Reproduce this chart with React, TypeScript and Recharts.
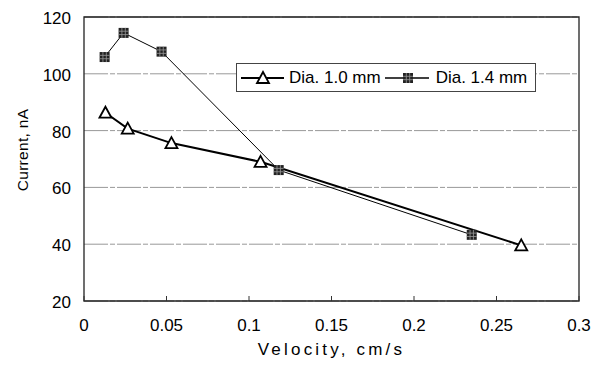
import React from "react";
import {
  LineChart,
  Line,
  XAxis,
  YAxis,
  CartesianGrid,
  ReferenceArea,
  Label,
} from "recharts";

const dia10X = [0.013, 0.0265, 0.053, 0.107, 0.265];
const dia10Y = [86.3, 80.7, 75.6, 69, 39.6];
const dia14X = [0.0125, 0.024, 0.047, 0.118, 0.235];
const dia14Y = [105.9, 114.4, 107.8, 66.1, 43.3];
const xTicks = [0, 0.05, 0.1, 0.15, 0.2, 0.25, 0.3];
const yTicks = [20, 40, 60, 80, 100, 120];
const seriesNames = ["Dia. 1.0 mm", "Dia. 1.4 mm"];

const dia10 = dia10X.map((x, i) => ({ x, y: dia10Y[i] }));
const dia14 = dia14X.map((x, i) => ({ x, y: dia14Y[i] }));

const FONT = "'Liberation Sans', Arial, Helvetica, sans-serif";

const Triangle = ({ cx, cy }: { cx: number; cy: number }) => (
  <path
    d={`M${cx},${cy - 6} L${cx + 6},${cy + 5} L${cx - 6},${cy + 5} Z`}
    fill="#fff"
    stroke="#000"
    strokeWidth={1.8}
    strokeLinejoin="miter"
  />
);

const Square = ({ cx, cy }: { cx: number; cy: number }) => (
  <g>
    <rect x={cx - 5} y={cy - 5} width={10} height={10} fill="#222" />
    <line x1={cx - 5} x2={cx + 5} y1={cy - 1.7} y2={cy - 1.7} stroke="#999" strokeWidth={0.8} />
    <line x1={cx - 5} x2={cx + 5} y1={cy + 1.7} y2={cy + 1.7} stroke="#999" strokeWidth={0.8} />
    <line y1={cy - 5} y2={cy + 5} x1={cx - 1.7} x2={cx - 1.7} stroke="#999" strokeWidth={0.8} />
    <line y1={cy - 5} y2={cy + 5} x1={cx + 1.7} x2={cx + 1.7} stroke="#999" strokeWidth={0.8} />
  </g>
);

const XTick = (props: any) => {
  const { x, y, payload } = props;
  return (
    <g>
      <line x1={x} x2={x} y1={y} y2={y - 5} stroke="#333" strokeWidth={1} />
      <text x={x} y={y + 30} textAnchor="middle" fontSize={17} fontFamily={FONT} fill="#000">
        {String(payload.value)}
      </text>
    </g>
  );
};

const YTick = (props: any) => {
  const { x, y, payload } = props;
  return (
    <text x={x - 13} y={y + 7} textAnchor="end" fontSize={17} fontFamily={FONT} fill="#000">
      {String(payload.value)}
    </text>
  );
};

const LegendBox = () => (
  <div
    style={{
      position: "absolute",
      left: 236,
      top: 63,
      width: 298,
      height: 27,
      border: "1px solid #444",
      background: "#fff",
      display: "flex",
      alignItems: "center",
      fontFamily: FONT,
      fontSize: 17,
      color: "#000",
      boxSizing: "content-box",
    }}
  >
    <svg width={48} height={27} style={{ display: "block" }}>
      <line x1={4} x2={47} y1={14} y2={14} stroke="#000" strokeWidth={2} />
      <Triangle cx={26} cy={14} />
    </svg>
    <span style={{ marginLeft: 4, whiteSpace: "nowrap" }}>{seriesNames[0]}</span>
    <svg width={48} height={27} style={{ display: "block", marginLeft: 3 }}>
      <line x1={1} x2={45} y1={14} y2={14} stroke="#000" strokeWidth={1.5} />
      <Square cx={24} cy={14} />
    </svg>
    <span style={{ marginLeft: 4, whiteSpace: "nowrap" }}>{seriesNames[1]}</span>
  </div>
);

export default function App() {
  return (
    <div style={{ position: "absolute", left: 0, top: 0, width: 602, height: 365, background: "#fff" }}>
      <LineChart
        width={602}
        height={365}
        margin={{ top: 17, right: 23, bottom: 0, left: 0 }}
      >
        <CartesianGrid
          horizontal
          vertical={false}
          stroke="#999"
          strokeDasharray="24 2 5 2"
        />
        <XAxis
          type="number"
          dataKey="x"
          domain={[0, 0.3]}
          ticks={xTicks}
          height={64}
          tickSize={0}
          tickMargin={0}
          tickLine={false}
          axisLine={false}
          tick={<XTick />}
          allowDataOverflow
        >
          <Label
            value="Velocity, cm/s"
            position="bottom"
            offset={-22}
            style={{ fontFamily: FONT, fontSize: 17, fill: "#000", letterSpacing: 3.2 }}
          />
        </XAxis>
        <YAxis
          type="number"
          domain={[20, 120]}
          ticks={yTicks}
          width={84}
          tickSize={0}
          tickMargin={0}
          tickLine={false}
          axisLine={false}
          tick={<YTick />}
          allowDataOverflow
        >
          <Label
            value="Current, nA"
            angle={-90}
            position="insideLeft"
            offset={22}
            dy={-9}
            style={{ fontFamily: FONT, fontSize: 15.5, fill: "#000", letterSpacing: 0.3, textAnchor: "middle" }}
          />
        </YAxis>
        <ReferenceArea x1={0} x2={0.3} y1={20} y2={120} fill="none" stroke="#222" strokeWidth={1.3} />
        <Line
          data={dia10}
          dataKey="y"
          name={seriesNames[0]}
          stroke="#000"
          strokeWidth={2}
          isAnimationActive={false}
          dot={(p: any) => <Triangle key={`t${p.index}`} cx={p.cx} cy={p.cy} />}
        />
        <Line
          data={dia14}
          dataKey="y"
          name={seriesNames[1]}
          stroke="#000"
          strokeWidth={1}
          isAnimationActive={false}
          dot={(p: any) => <Square key={`s${p.index}`} cx={p.cx} cy={p.cy} />}
        />
      </LineChart>
      <LegendBox />
    </div>
  );
}
